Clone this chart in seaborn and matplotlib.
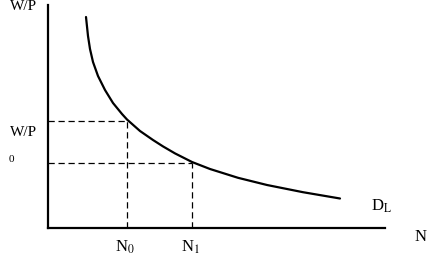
import seaborn as sns
import matplotlib.pyplot as plt
import pandas as pd

sns.set_theme(style="white")
plt.rcParams['font.family'] = ['Liberation Serif', 'DejaVu Serif']
plt.rcParams['mathtext.fontset'] = 'stix'

# Demand curve (N, W/P in arbitrary units)
curve_n = [38, 40, 42, 45, 50, 57, 65, 74, 79, 92, 105, 115, 127, 144, 162, 190, 219, 255, 292]
curve_w = [211, 192, 179, 166, 152, 138, 125, 114, 108.5, 97, 88, 81.6, 74.6, 66, 59, 50.2, 43, 35.8, 29.5]

# Marked employment levels and the matching real wages
n_marks = [79, 144]
w_marks = [107, 65]
n_labels = ["N$_0$", "N$_1$"]

df = pd.DataFrame({"N": curve_n, "WP": curve_w})

fig = plt.figure(figsize=(4.34, 2.58), dpi=100)
ax = fig.add_axes([48 / 434, 30 / 258, 337 / 434, 223 / 258])

sns.lineplot(data=df, x="N", y="WP", color="black", linewidth=1.6,
             solid_joinstyle="round", ax=ax)

# Dashed guide lines from the curve to both axes
for n, w in zip(n_marks, w_marks):
    ax.plot([0, n], [w, w], color="black", linestyle=(0, (5, 3)), linewidth=0.9)
    ax.plot([n, n], [0, w], color="black", linestyle=(0, (5, 3)), linewidth=0.9)

ax.set_xlim(0, 337)
ax.set_ylim(0, 223)
ax.set_xticks([])
ax.set_yticks([])
ax.set_xlabel("")
ax.set_ylabel("")
for side in ["top", "right"]:
    ax.spines[side].set_visible(False)
for side in ["left", "bottom"]:
    ax.spines[side].set_color("black")
    ax.spines[side].set_linewidth(1.6)

# Labels placed in data units
kw = dict(color="black", clip_on=False)
ax.text(-38, 228, "W/P", fontsize=11, ha="left", va="top", **kw)
ax.text(-38, 96, "W/P", fontsize=11, ha="left", va="center", **kw)
ax.text(-37, 68, "0", fontsize=8, ha="center", va="center", **kw)
for n, lab in zip(n_marks, n_labels):
    ax.text(n - 2, -19, lab, fontsize=12, ha="center", va="center", **kw)
ax.text(373, -9, "N", fontsize=12, ha="center", va="center", **kw)
ax.text(334, 22, "D$_{\\rm L}$", fontsize=12, ha="center", va="center", **kw)

fig.savefig("out.png", dpi=100)
